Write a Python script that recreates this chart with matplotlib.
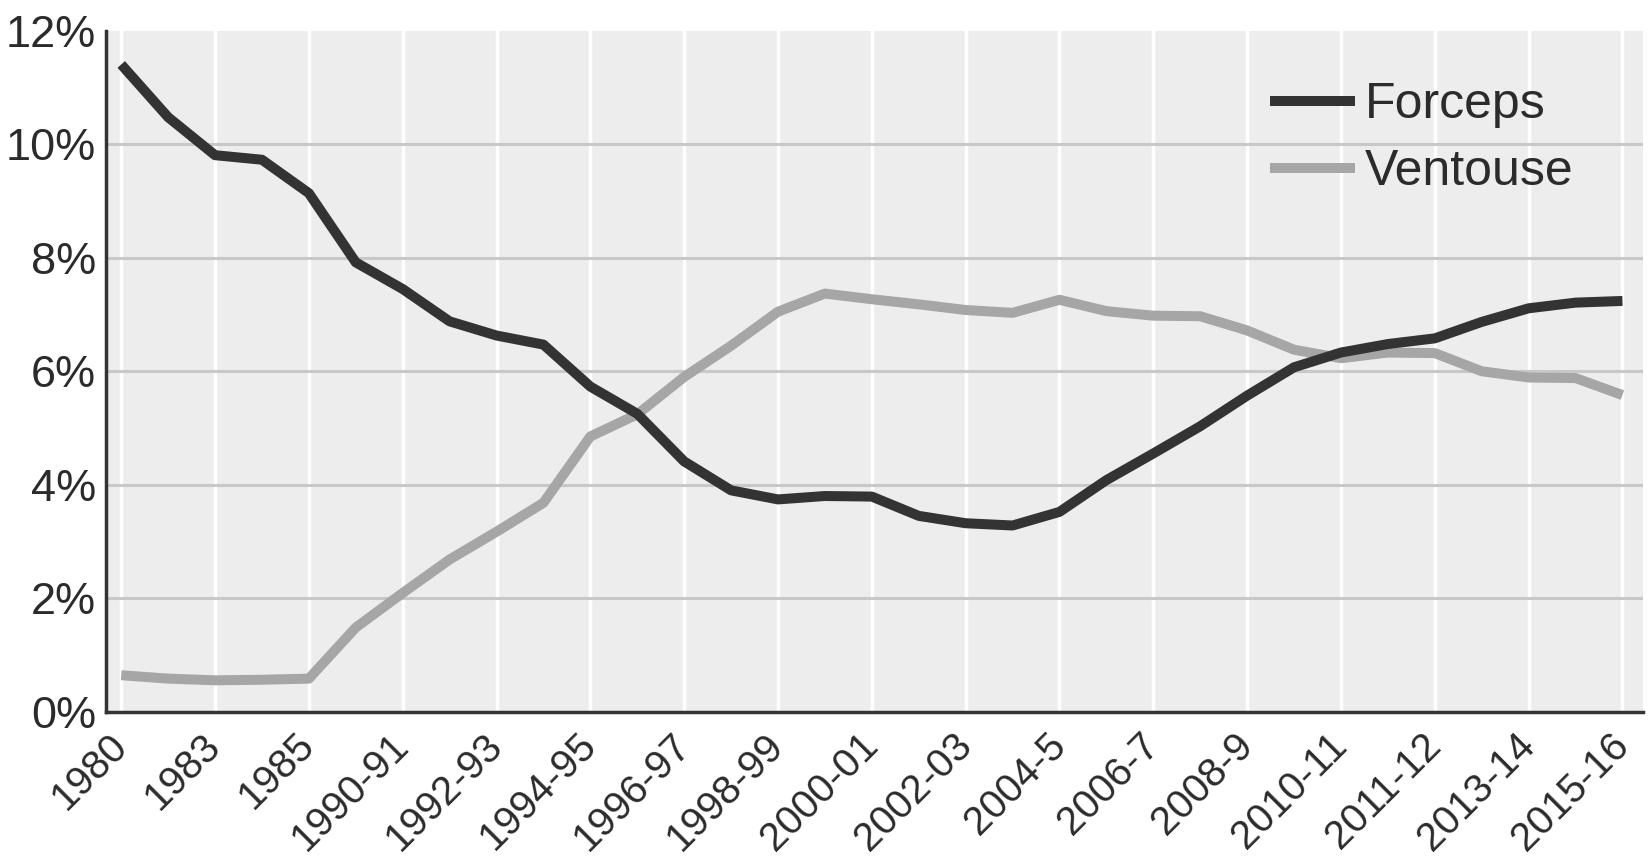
import matplotlib
matplotlib.use("Agg")
import matplotlib.pyplot as plt
import numpy as np

# category labels (one every other data point)
tick_labels = ["1980", "1983", "1985", "1990-91", "1992-93", "1994-95", "1996-97",
               "1998-99", "2000-01", "2002-03", "2004-5", "2006-7", "2008-9",
               "2010-11", "2011-12", "2013-14", "2015-16"]

# rates in percent, read at half-label steps
forceps = [11.41, 10.48, 9.81, 9.73, 9.14, 7.92, 7.45, 6.88, 6.63, 6.47,
           5.73, 5.25, 4.41, 3.90, 3.74, 3.80, 3.79, 3.45, 3.32, 3.28,
           3.52, 4.08, 4.55, 5.03, 5.57, 6.07, 6.33, 6.48, 6.58, 6.87,
           7.11, 7.21, 7.24]
ventouse = [0.64, 0.58, 0.55, 0.56, 0.58, 1.48, 2.09, 2.68, 3.17, 3.68,
            4.85, 5.24, 5.90, 6.45, 7.05, 7.37, 7.27, 7.18, 7.08, 7.03,
            7.26, 7.06, 6.98, 6.97, 6.72, 6.38, 6.23, 6.33, 6.32, 6.00,
            5.89, 5.88, 5.58]

plt.rcParams['font.family'] = ['Liberation Sans Narrow', 'Liberation Sans', 'DejaVu Sans']

x = np.arange(len(forceps)) * 0.5
ticks = np.arange(len(tick_labels))

fig = plt.figure(figsize=(16.52, 8.66), dpi=100)
ax = fig.add_axes([0.064, 0.1784, 0.9306, 0.7858])
ax.set_facecolor("#ededed")

for t in ticks:
    ax.axvline(t, color="white", lw=2.5, zorder=1)
for v in [2, 4, 6, 8, 10]:
    ax.axhline(v, color="#c8c8c8", lw=2.2, zorder=1.5)

ax.plot(x, forceps, color="#333333", lw=7.2, label="Forceps",
        solid_joinstyle="round", solid_capstyle="butt", zorder=3)
ax.plot(x, ventouse, color="#a6a6a6", lw=7.2, label="Ventouse",
        solid_joinstyle="round", solid_capstyle="butt", zorder=2)

ax.set_xlim(-0.165, 16.22)
ax.set_ylim(0, 12)

ax.set_yticks([0, 2, 4, 6, 8, 10, 12])
ax.set_yticklabels([f"{v}%" for v in [0, 2, 4, 6, 8, 10, 12]])
ax.set_xticks(ticks)
ax.set_xticklabels(tick_labels, rotation=45, ha="right", va="center",
                   rotation_mode="anchor")
ax.tick_params(axis="y", length=0, pad=7, labelsize=32.5, labelcolor="#2b2b2b")
ax.tick_params(axis="x", length=0, pad=20, labelsize=29, labelcolor="#2b2b2b")

for side in ["top", "right"]:
    ax.spines[side].set_visible(False)
for side in ["left", "bottom"]:
    ax.spines[side].set_color("#333333")
    ax.spines[side].set_linewidth(2.5)

leg = ax.legend(loc="upper left", bbox_to_anchor=(0.757, 0.925), frameon=False,
                fontsize=36, handlelength=1.7, handletextpad=0.2,
                labelspacing=0.42, borderpad=0, borderaxespad=0)
for txt in leg.get_texts():
    txt.set_color("#2b2b2b")

fig.savefig("out.png", dpi=100)
